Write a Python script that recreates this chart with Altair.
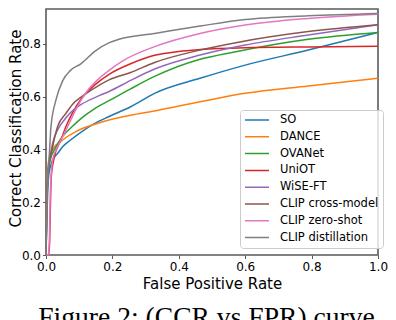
import altair as alt
import pandas as pd

series_names = ["SO", "DANCE", "OVANet", "UniOT", "WiSE-FT",
                "CLIP cross-model", "CLIP zero-shot", "CLIP distillation"]
series_colors = ["#1f77b4", "#ff7f0e", "#2ca02c", "#d62728", "#9467bd",
                 "#8c564b", "#e377c2", "#7f7f7f"]

so_x = [0, 0.003, 0.005, 0.009, 0.02, 0.035, 0.05, 0.074, 0.108, 0.147, 0.19, 0.255, 0.327, 0.464, 0.6, 0.79, 1.0]
so_y = [0, 0.15, 0.236, 0.31, 0.36, 0.385, 0.41, 0.436, 0.468, 0.499, 0.525, 0.562, 0.613, 0.670, 0.72, 0.777, 0.844]

dance_x = [0, 0.002, 0.005, 0.01, 0.02, 0.05, 0.09, 0.14, 0.19, 0.255, 0.327, 0.464, 0.6, 0.79, 1.0]
dance_y = [0, 0.2, 0.32, 0.37, 0.40, 0.436, 0.468, 0.493, 0.512, 0.53, 0.546, 0.581, 0.613, 0.641, 0.670]

ovanet_x = [0, 0.003, 0.006, 0.013, 0.03, 0.05, 0.079, 0.108, 0.147, 0.19, 0.255, 0.327, 0.464, 0.572, 0.79, 1.0]
ovanet_y = [0, 0.2, 0.31, 0.36, 0.41, 0.45, 0.487, 0.52, 0.555, 0.585, 0.63, 0.677, 0.742, 0.771, 0.818, 0.844]

uniot_x = [0, 0.008, 0.011, 0.013, 0.016, 0.025, 0.045, 0.06, 0.079, 0.108, 0.147, 0.19, 0.255, 0.327, 0.4, 0.464, 0.6, 0.79, 1.0]
uniot_y = [0, 0.0, 0.05, 0.17, 0.30, 0.37, 0.436, 0.487, 0.537, 0.595, 0.645, 0.685, 0.725, 0.757, 0.772, 0.779, 0.786, 0.789, 0.791]

wise_x = [0, 0.003, 0.006, 0.011, 0.02, 0.035, 0.055, 0.074, 0.105, 0.162, 0.19, 0.255, 0.327, 0.464, 0.6, 0.79, 1.0]
wise_y = [0, 0.2, 0.3, 0.36, 0.424, 0.474, 0.512, 0.54, 0.57, 0.605, 0.62, 0.662, 0.705, 0.758, 0.796, 0.834, 0.873]

cross_x = [0, 0.002, 0.005, 0.02, 0.035, 0.06, 0.079, 0.113, 0.162, 0.19, 0.255, 0.327, 0.464, 0.572, 0.79, 1.0]
cross_y = [0, 0.2, 0.30, 0.41, 0.487, 0.537, 0.57, 0.605, 0.645, 0.664, 0.692, 0.73, 0.777, 0.805, 0.847, 0.873]

zero_x = [0, 0.008, 0.011, 0.013, 0.02, 0.035, 0.055, 0.074, 0.1, 0.123, 0.162, 0.19, 0.23, 0.327, 0.464, 0.6, 0.79, 1.0]
zero_y = [0, 0.0, 0.1, 0.236, 0.36, 0.41, 0.46, 0.51, 0.575, 0.62, 0.672, 0.70, 0.735, 0.79, 0.84, 0.872, 0.897, 0.913]

dist_x = [0, 0.002, 0.005, 0.009, 0.015, 0.03, 0.05, 0.074, 0.105, 0.15, 0.191, 0.22, 0.327, 0.464, 0.6, 0.79, 1.0]
dist_y = [0, 0.15, 0.3, 0.36, 0.487, 0.588, 0.66, 0.70, 0.725, 0.775, 0.805, 0.818, 0.84, 0.868, 0.893, 0.907, 0.916]

x_ticks = [0.0, 0.2, 0.4, 0.6, 0.8, 1.0]
y_ticks = [0.0, 0.2, 0.4, 0.6, 0.8]

all_x = [so_x, dance_x, ovanet_x, uniot_x, wise_x, cross_x, zero_x, dist_x]
all_y = [so_y, dance_y, ovanet_y, uniot_y, wise_y, cross_y, zero_y, dist_y]

rows = []
for k, (name, xs, ys) in enumerate(zip(series_names, all_x, all_y)):
    for i, (xv, yv) in enumerate(zip(xs, ys)):
        rows.append({"series": name, "fpr": xv, "ccr": yv, "k": k, "i": i})
df = pd.DataFrame(rows)

chart = alt.Chart(df).mark_line(strokeWidth=1.5, interpolate="monotone").encode(
    x=alt.X("fpr:Q",
            scale=alt.Scale(domain=[0, 1], nice=False, zero=False),
            axis=alt.Axis(title="False Positive Rate", values=x_ticks, format=".1f",
                          labelFlush=False, labelOverlap=False,
                          titleX=166, titleY=33, titleBaseline="alphabetic")),
    y=alt.Y("ccr:Q",
            scale=alt.Scale(domain=[0, 0.9327], nice=False, zero=False),
            axis=alt.Axis(title="Correct Classification Rate", values=y_ticks, format=".1f",
                          labelOverlap=False,
                          titleX=-25.5, titleY=119, titleAngle=270,
                          titleAlign="center", titleBaseline="alphabetic")),
    color=alt.Color("series:N",
                    scale=alt.Scale(domain=series_names, range=series_colors),
                    legend=alt.Legend(title=None, orient="none", legendX=194, legendY=101,
                                      symbolType="stroke", symbolSize=576,
                                      symbolStrokeWidth=1.5, clipHeight=12,
                                      rowPadding=4.8, padding=4, labelOffset=10,
                                      labelFont="DejaVu Sans", labelFontSize=11.5,
                                      labelColor="black", labelLimit=200,
                                      fillColor="rgba(255,255,255,0.8)",
                                      strokeColor="#cccccc", cornerRadius=3)),
    detail="k:O",
).properties(
    width=332,
    height=246,
    autosize=alt.AutoSizeParams(type="none"),
    padding={"left": 38, "top": 1, "right": 10, "bottom": 65},
    title=alt.TitleParams(text="Figure 2: (CCR vs FPR) curve", orient="bottom",
                          frame="group", anchor="middle", offset=35, dx=-5.5,
                          baseline="alphabetic",
                          font="Liberation Serif", fontSize=27.6,
                          fontWeight="normal", color="black"),
).configure_view(
    stroke="#5a5a5a", strokeWidth=1.6
).configure_axis(
    domain=False, grid=False, ticks=True, tickColor="#5a5a5a", tickWidth=1,
    tickSize=3.5, labelPadding=3, labelFont="DejaVu Sans", labelFontSize=12,
    labelColor="black", titleFont="DejaVu Sans", titleFontSize=15,
    titleFontWeight="normal", titleColor="black"
).configure_axisY(labelPadding=2)

chart.save("out.html", embed_options={"renderer": "svg", "actions": False})
